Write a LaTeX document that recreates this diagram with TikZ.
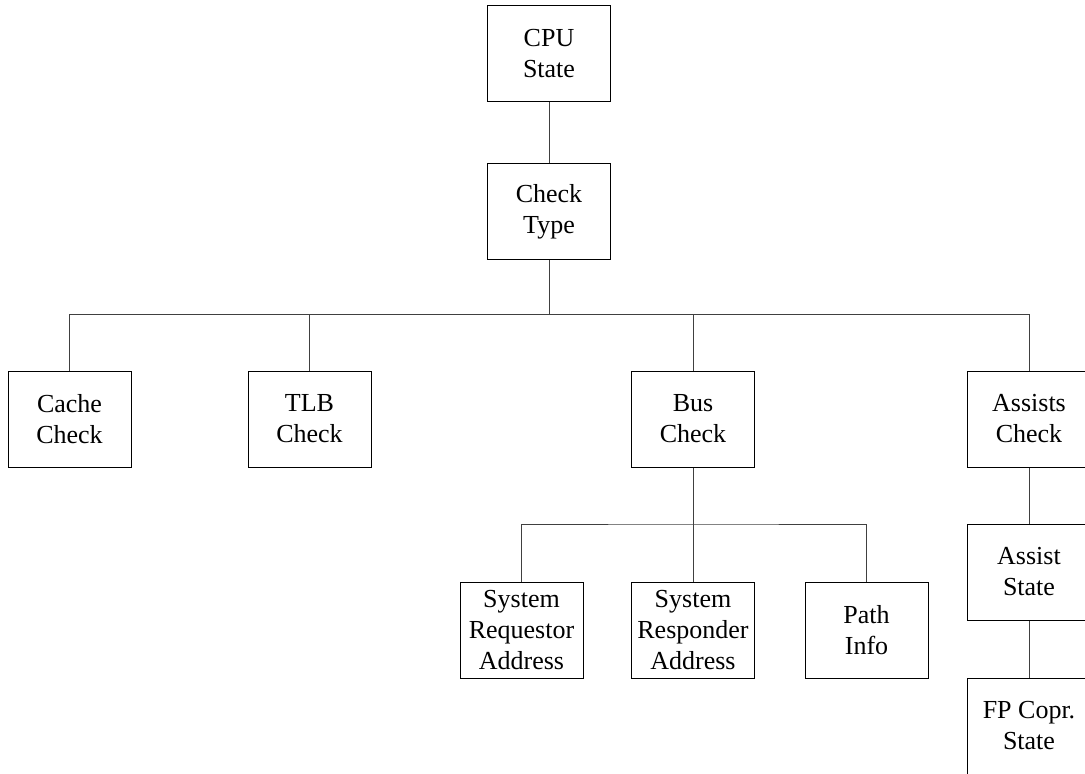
\documentclass[tikz,border=0pt]{standalone}
\usepackage{fontspec}
\setmainfont{Liberation Serif}
\begin{document}
\begin{tikzpicture}[x=1pt,y=-1pt,
  box/.style={draw=black,line width=1pt,minimum width=123pt,minimum height=96pt,inner sep=0pt,align=center,font=\fontsize{26}{31}\selectfont,fill=white},
  link/.style={draw=black!75,line width=1pt}]
\useasboundingbox (0,0) rectangle (1085,774);
\node[box] (cpu) at (549,53.5) {CPU\\State};
\node[box] (type) at (549,211.5) {Check\\Type};
\node[box] (cache) at (69.5,419) {Cache\\Check};
\node[box] (tlb) at (309.5,419) {TLB\\Check};
\node[box] (bus) at (693,419) {Bus\\Check};
\node[box] (assists) at (1029,419) {Assists\\Check};
\node[box] (req) at (521.5,630.5) {System\\Requestor\\Address};
\node[box] (resp) at (693,630.5) {System\\Responder\\Address};
\node[box] (path) at (866.5,630.5) {Path\\Info};
\node[box] (astate) at (1029,572) {Assist\\State};
\node[box] (fp) at (1029,726) {FP Copr.\\State};
\coordinate (b1) at (0,314.5);
\coordinate (b2) at (0,524);
\draw[link] (cpu) -- (type);
\draw[link] (type.south) -- (type.south |- b1);
\draw[link] (cache.north) |- (type.south |- b1) -| (assists.north);
\draw[link] (tlb.north) -- (tlb.north |- b1);
\draw[link] (bus.north) -- (bus.north |- b1);
\draw[link] (bus.south) -- (bus.south |- b2);
\draw[link] (req.north) |- (bus.south |- b2) -| (path.north);
\draw[link] (resp.north) -- (resp.north |- b2);
\draw[link] (assists) -- (astate);
\draw[link] (astate) -- (fp);
\end{tikzpicture}
\end{document}
